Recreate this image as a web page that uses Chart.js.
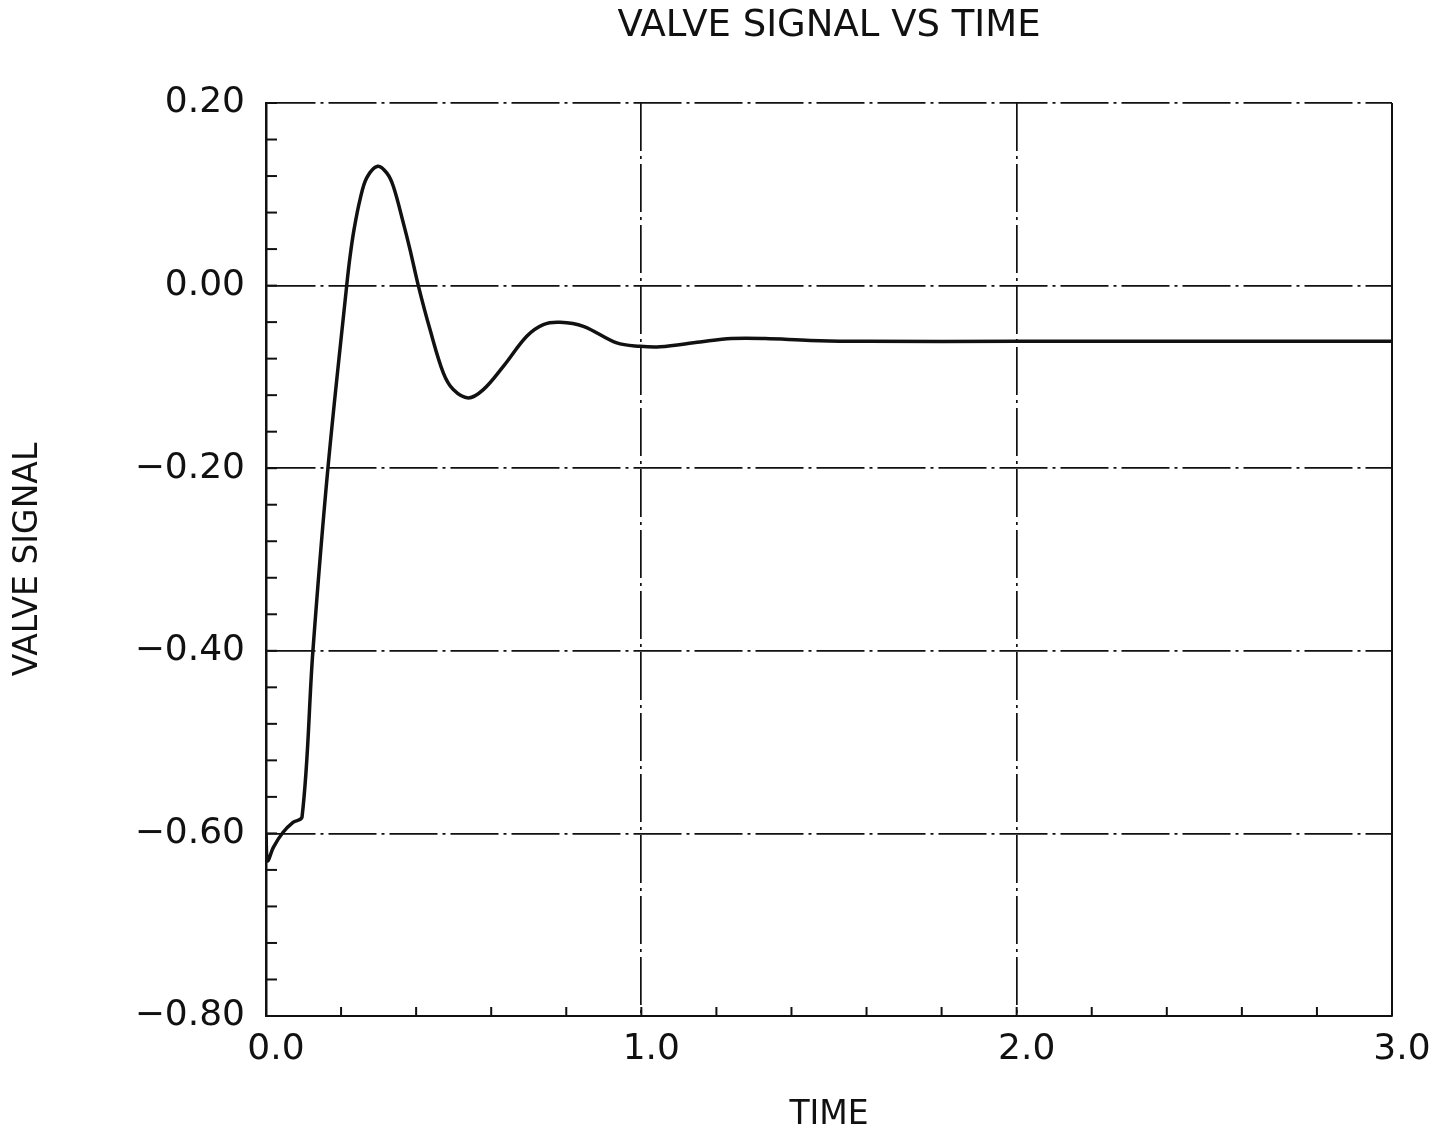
<!DOCTYPE html>
<html>
<head>
<meta charset="utf-8">
<script src="https://cdn.jsdelivr.net/npm/chart.js@4.4.1/dist/chart.umd.min.js"></script>
<style>
  html, body { margin: 0; padding: 0; background: #ffffff; }
  #wrap { width: 1437px; height: 1135px; }
</style>
</head>
<body>
<div id="wrap"><canvas id="c" width="1437" height="1135"></canvas></div>
<script>
// ---- data ----
const timeValues = [0, 0.004, 0.02, 0.045, 0.072, 0.096, 0.125, 0.165, 0.215, 0.224, 0.2345, 0.2505, 0.2683, 0.2976, 0.3216, 0.3392, 0.3658, 0.3837, 0.4058, 0.437, 0.4724, 0.499, 0.539, 0.579, 0.6323, 0.6947, 0.7389, 0.7834, 0.8455, 0.9345, 0.9965, 1.0498, 1.1564, 1.24, 1.33, 1.45, 1.60, 2.0, 2.5, 3.0];
const valveSignal = [-0.600, -0.630, -0.615, -0.599, -0.588, -0.582, -0.400, -0.200, 0.000, 0.032, 0.0613, 0.0942, 0.118, 0.1307, 0.1234, 0.1088, 0.0687, 0.0394, 0.000, -0.0482, -0.0956, -0.1139, -0.123, -0.1139, -0.0884, -0.0555, -0.0427, -0.0402, -0.0446, -0.0628, -0.0665, -0.0671, -0.0617, -0.058, -0.058, -0.060, -0.061, -0.061, -0.061, -0.061];
const xTickValues = [0, 1, 2, 3];
const xTickLabels = ['0.0', '1.0', '2.0', '3.0'];
const yTickValues = [0.2, 0, -0.2, -0.4, -0.6, -0.8];
const yTickLabels = ['0.20', '0.00', '\u22120.20', '\u22120.40', '\u22120.60', '\u22120.80'];
const chartTitle = 'VALVE SIGNAL VS TIME';
const xTitle = 'TIME';
const yTitle = 'VALVE SIGNAL';

const points = timeValues.map((t, i) => ({ x: t, y: valveSignal[i] }));
const FONT = "'DejaVu Sans', 'Liberation Sans', sans-serif";
const INK = '#111111';

function labelFor(values, labels, v) {
  for (let i = 0; i < values.length; i++) {
    if (Math.abs(values[i] - v) < 1e-6) return labels[i];
  }
  return '';
}

const framePlugin = {
  id: 'frame',
  afterDatasetsDraw(chart) {
    const { ctx, chartArea: a, scales } = chart;
    const xs = scales.x, ys = scales.y;
    ctx.save();
    ctx.strokeStyle = INK;
    ctx.lineWidth = 2;
    ctx.setLineDash([]);
    // right frame edge (solid)
    ctx.beginPath();
    ctx.moveTo(a.right, a.top);
    ctx.lineTo(a.right, a.bottom);
    ctx.stroke();
    // minor ticks on the left axis (inward)
    for (let k = 0; k <= 25; k++) {
      const v = -0.8 + k * 0.04;
      const py = ys.getPixelForValue(v);
      ctx.beginPath();
      ctx.moveTo(a.left, py);
      ctx.lineTo(a.left + 11, py);
      ctx.stroke();
    }
    // minor ticks on the bottom axis (inward)
    for (let k = 0; k <= 15; k++) {
      const v = k * 0.2;
      const px = xs.getPixelForValue(v);
      ctx.beginPath();
      ctx.moveTo(px, a.bottom);
      ctx.lineTo(px, a.bottom - 9);
      ctx.stroke();
    }
    ctx.restore();
  }
};

new Chart(document.getElementById('c'), {
  type: 'line',
  data: {
    datasets: [{
      data: points,
      borderColor: INK,
      borderWidth: 3.5,
      pointRadius: 0,
      fill: false,
      tension: 0.35
    }]
  },
  options: {
    responsive: false,
    animation: false,
    layout: { padding: { left: 0, right: 45, top: 0, bottom: 0 } },
    plugins: {
      legend: { display: false },
      tooltip: { enabled: false },
      title: {
        display: true,
        fullSize: false,
        text: chartTitle,
        color: INK,
        font: { family: FONT, size: 37, weight: 'normal', lineHeight: 1.2 },
        padding: { top: 4, bottom: 54.6 }
      }
    },
    scales: {
      x: {
        type: 'linear',
        min: 0,
        max: 3,
        afterFit(scale) { scale.height = 119; },
        afterBuildTicks(scale) { scale.ticks = xTickValues.map(v => ({ value: v })); },
        ticks: {
          color: INK,
          font: { family: FONT, size: 36 },
          padding: 12,
          labelOffset: 10,
          maxRotation: 0,
          callback: (v) => labelFor(xTickValues, xTickLabels, v)
        },
        grid: { color: INK, lineWidth: 1.7, drawTicks: false },
        border: { display: true, color: INK, width: 2, dash: [48, 5, 3, 5] },
        title: {
          display: true,
          text: xTitle,
          color: INK,
          font: { family: FONT, size: 33, lineHeight: 1.2 },
          padding: { top: 0, bottom: 0 }
        }
      },
      y: {
        type: 'linear',
        min: -0.8,
        max: 0.2,
        afterFit(scale) { scale.width = 266; },
        afterBuildTicks(scale) { scale.ticks = yTickValues.map(v => ({ value: v })); },
        ticks: {
          color: INK,
          font: { family: FONT, size: 36 },
          padding: 21,
          callback: (v) => labelFor(yTickValues, yTickLabels, v)
        },
        grid: { color: INK, lineWidth: 1.7, drawTicks: false },
        border: { display: true, color: INK, width: 2.5, dash: [48, 5, 3, 5] },
        title: {
          display: true,
          text: yTitle,
          color: INK,
          font: { family: FONT, size: 33, lineHeight: 1.2 },
          padding: { top: 9, bottom: 0 }
        }
      }
    }
  },
  plugins: [framePlugin]
});
</script>
</body>
</html>
